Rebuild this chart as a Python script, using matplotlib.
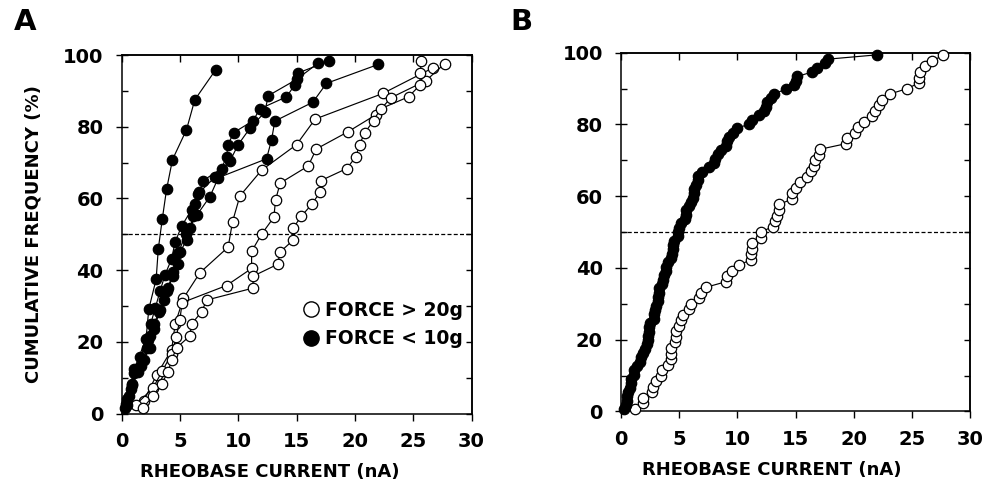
import numpy as np
import matplotlib
matplotlib.use("Agg")
import matplotlib.pyplot as plt
from matplotlib.lines import Line2D
from matplotlib.ticker import MultipleLocator

plt.rcParams['font.family'] = ['DejaVu Sans']
plt.rcParams['font.weight'] = 'bold'

# Rheobase currents (nA) of individual motor units, one list per muscle sample
# FORCE < 10g (filled)
fast_1 = [0.5, 1.1, 2.1, 2.34, 2.97, 3.15, 3.49, 3.86, 4.37, 5.57, 6.28, 8.06]
fast_2 = [0.5, 0.8, 1.1, 1.6, 2.3, 2.5, 2.9, 3.3, 3.72, 4.3, 4.58, 5.15, 6.0,
          6.58, 8.0, 9.3, 10.0, 11.0, 12.29, 12.57, 15.0, 16.85]
fast_3 = [0.3, 0.6, 0.9, 1.4, 1.9, 2.2, 2.4, 2.8, 3.2, 3.6, 4.0, 4.43, 4.86,
          5.0, 5.58, 5.86, 6.15, 6.29, 6.66, 7.0, 8.58, 9.0, 9.14, 9.6, 11.28,
          11.86, 14.14, 14.85, 15.14, 17.77]
fast_4 = [0.4, 0.9, 1.7, 2.4, 2.8, 3.3, 3.9, 4.43, 4.86, 5.5, 6.44, 7.58, 8.3,
          12.43, 12.86, 13.14, 16.4, 17.57, 22.0]
# FORCE > 20g (open)
slow_1 = [1.9, 3.0, 4.3, 4.6, 5.3, 6.72, 9.14, 9.52, 10.15, 12.0, 15.0, 16.6,
          22.4, 26.7]
slow_2 = [1.2, 2.7, 3.5, 4.3, 4.7, 5.0, 5.2, 9.0, 11.15, 11.15, 12.0, 13.06,
          13.2, 13.6, 16.0, 16.7, 19.4, 21.8, 23.1, 26.1, 27.7]
slow_3 = [1.87, 2.72, 3.44, 4.0, 4.3, 4.72, 5.86, 6.0, 6.86, 7.3, 11.28, 11.28,
          13.4, 13.57, 14.7, 14.7, 15.4, 16.3, 17.0, 17.1, 19.3, 20.1, 20.4,
          20.85, 21.6, 22.2, 24.6, 25.6, 25.6, 25.7]

fast_groups = [fast_1, fast_2, fast_3, fast_4]
slow_groups = [slow_1, slow_2, slow_3]

legend_labels = ["FORCE > 20g", "FORCE < 10g"]
x_ticks = [0, 5, 10, 15, 20, 25, 30]
y_ticks = [0, 20, 40, 60, 80, 100]


def ecdf(vals):
    x = np.sort(np.asarray(vals, dtype=float))
    n = len(x)
    y = (np.arange(1, n + 1) - 0.5) / n * 100.0
    return x, y


fig = plt.figure(figsize=(9.96, 4.98), dpi=100)
axA = fig.add_axes([0.122, 0.1695, 0.3514, 0.7200])
axB = fig.add_axes([0.6235, 0.1737, 0.3504, 0.7205])

open_kw = dict(color='black', lw=0.85, marker='o', mfc='white', mec='black',
               mew=0.9, clip_on=False)
fill_kw = dict(color='black', lw=0.85, marker='o', mfc='black', mec='black',
               mew=0.9, clip_on=False)

for g in slow_groups:
    x, y = ecdf(g)
    axA.plot(x, y, ms=7.5, zorder=3, **open_kw)
for g in fast_groups:
    x, y = ecdf(g)
    axA.plot(x, y, ms=7.5, zorder=4, **fill_kw)

x, y = ecdf(sum(slow_groups, []))
axB.plot(x, y, ms=7.5, zorder=3, **open_kw)
x, y = ecdf(sum(fast_groups, []))
axB.plot(x, y, ms=7.5, zorder=4, **fill_kw)

for ax in (axA, axB):
    ax.set_xlim(0, 30)
    ax.set_ylim(0, 100)
    ax.axhline(50, color='black', lw=0.9, ls=(0, (3.2, 1.8)), zorder=2)
    for s in ax.spines.values():
        s.set_linewidth(1.1)
    ax.set_xticks(x_ticks)
    ax.set_yticks(y_ticks)
    ax.yaxis.set_minor_locator(MultipleLocator(10))
    ax.tick_params(axis='x', which='major', direction='out', length=5,
                   width=1.0, pad=8, labelsize=14, top=False)
    ax.tick_params(axis='y', which='major', direction='inout', length=8,
                   width=1.0, pad=9, labelsize=14, right=False)
    ax.tick_params(axis='y', which='minor', direction='in', length=4,
                   width=1.0, right=False)
    for t in ax.get_xticklabels() + ax.get_yticklabels():
        t.set_fontweight('bold')
    secx = ax.secondary_xaxis('top')
    secx.set_xticks(x_ticks)
    secx.tick_params(direction='in', length=5, width=1.0, labeltop=False)
    secx.spines['top'].set_linewidth(1.1)
    secy = ax.secondary_yaxis('right')
    secy.set_yticks(list(range(0, 101, 10)))
    secy.tick_params(direction='in', length=4, width=1.0, labelright=False)
    secy.spines['right'].set_linewidth(1.1)
    ax.set_xlabel("RHEOBASE CURRENT (nA)", fontsize=13, fontweight='bold')

axA.xaxis.set_label_coords(0.424, -0.137)
axB.xaxis.set_label_coords(0.433, -0.137)
axA.set_ylabel("CUMULATIVE FREQUENCY (%)", fontsize=13, fontweight='bold')
axA.yaxis.set_label_coords(-0.226, 0.5)

handles = [Line2D([], [], ls='none', marker='o', mfc='white', mec='black',
                  mew=1.0, ms=11),
           Line2D([], [], ls='none', marker='o', mfc='black', mec='black',
                  mew=1.0, ms=11)]
axA.legend(handles, legend_labels, loc='upper left',
           bbox_to_anchor=(0.49, 0.34), frameon=False, fontsize=13.5,
           handlelength=0.9, handletextpad=0.3, labelspacing=0.5,
           borderpad=0.0)

fig.text(0.025, 0.955, "A", fontsize=21, fontweight='bold', ha='center',
         va='center')
fig.text(0.524, 0.955, "B", fontsize=21, fontweight='bold', ha='center',
         va='center')

fig.savefig("out.png", dpi=100)
